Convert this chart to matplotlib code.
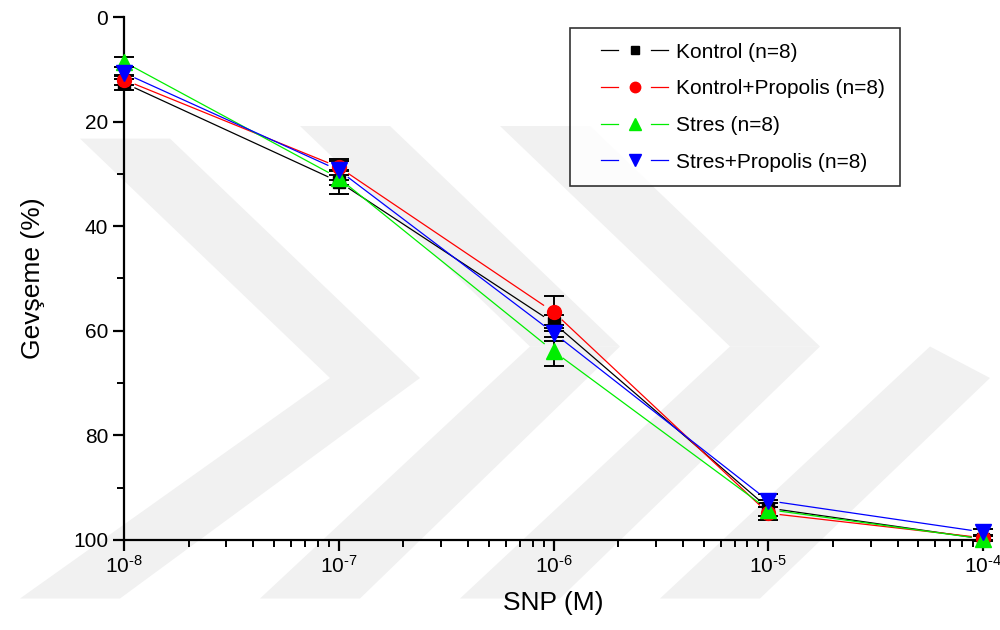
import numpy as np
import matplotlib
matplotlib.use('Agg')
import matplotlib.pyplot as plt
from matplotlib.patches import Polygon
from matplotlib.lines import Line2D
from matplotlib.legend_handler import HandlerBase
from matplotlib.ticker import LogLocator, FixedLocator, NullFormatter, FuncFormatter

plt.rcParams['font.family'] = ['Liberation Sans', 'DejaVu Sans']
plt.rcParams['mathtext.fontset'] = 'custom'
plt.rcParams['mathtext.rm'] = 'Liberation Sans'
plt.rcParams['mathtext.it'] = 'Liberation Sans'

# SNP concentrations (M)
conc = [1e-8, 1e-7, 1e-6, 1e-5, 1e-4]

# relaxation (%) per group, mean and error
kontrol = [12.6, 31.5, 58.5, 93.9, 99.8]
kontrol_err = [1.4, 2.3, 1.5, 1.5, 0.5]
kontrol_prop = [12.0, 28.7, 56.4, 94.9, 99.6]
kontrol_prop_err = [1.0, 1.6, 3.0, 1.2, 0.5]
stres = [8.6, 30.8, 63.9, 94.2, 99.8]
stres_err = [1.0, 1.3, 2.8, 1.2, 0.5]
stres_prop = [10.7, 29.3, 60.4, 92.5, 98.5]
stres_prop_err = [1.2, 1.8, 1.5, 1.3, 0.6]

labels = ['Kontrol (n=8)', 'Kontrol+Propolis (n=8)', 'Stres (n=8)',
          'Stres+Propolis (n=8)']
colors = ['black', '#ff0000', '#00ee00', '#0000ff']
markers = ['s', 'o', '^', 'v']
msizes = [8, 10, 11, 11]
GAP = 12  # px between line end and marker centre (Origin style)


class GapHandler(HandlerBase):
    # legend entry drawn as  -- marker --  with gaps around the marker
    def create_artists(self, legend, orig, xdescent, ydescent, width, height,
                       fontsize, trans):
        y = height / 2.0 - ydescent
        x0 = -xdescent + width * 0.2
        x1 = -xdescent + width
        xm = (x0 + x1) / 2.0
        g = width * 0.2
        kw = dict(color=orig.get_color(), lw=orig.get_linewidth())
        a = Line2D([x0, xm - g], [y, y], **kw)
        b = Line2D([xm + g, x1], [y, y], **kw)
        m = Line2D([xm], [y], ls='none', marker=orig.get_marker(),
                   ms=orig.get_markersize() * 0.75, color=orig.get_color())
        for art in (a, b, m):
            art.set_transform(trans)
        return [a, b, m]


fig = plt.figure(figsize=(10, 6.3), dpi=100)

# faint watermark bands in the background
bg = fig.add_axes([0, 0, 1, 1], zorder=-1)
bg.set_xlim(0, 1)
bg.set_ylim(0, 1)
bg.axis('off')
wm = '#f1f1f1'
for p in [
    [(0.08, 0.78), (0.17, 0.78), (0.42, 0.40), (0.33, 0.40)],
    [(0.02, 0.05), (0.12, 0.05), (0.42, 0.40), (0.33, 0.40)],
    [(0.26, 0.05), (0.36, 0.05), (0.62, 0.45), (0.53, 0.45)],
    [(0.30, 0.80), (0.39, 0.80), (0.62, 0.45), (0.53, 0.45)],
    [(0.46, 0.05), (0.56, 0.05), (0.82, 0.45), (0.73, 0.45)],
    [(0.50, 0.80), (0.59, 0.80), (0.82, 0.45), (0.73, 0.45)],
    [(0.66, 0.05), (0.76, 0.05), (0.99, 0.40), (0.93, 0.45)],
]:
    bg.add_patch(Polygon(p, closed=True, facecolor=wm, edgecolor='none'))

ax = fig.add_axes([0.124, 0.143, 0.859, 0.830])
ax.patch.set_alpha(0)
ax.set_xscale('log')
ax.set_xlim(1e-8, 1e-4)
ax.set_ylim(100, 0)

series = [(kontrol, kontrol_err), (kontrol_prop, kontrol_prop_err),
          (stres, stres_err), (stres_prop, stres_prop_err)]
handles = []
inv = ax.transData.inverted()
for i, (y, e) in enumerate(series):
    ax.errorbar(conc, y, yerr=e, fmt='none', ecolor='black', elinewidth=1.4,
                capsize=7, capthick=1.4, zorder=2, clip_on=False)
    # connecting segments, shortened near each marker
    pts = ax.transData.transform(np.column_stack([conc, y]))
    for p0, p1 in zip(pts[:-1], pts[1:]):
        d = p1 - p0
        u = d / np.hypot(*d)
        seg = inv.transform([p0 + u * GAP, p1 - u * GAP])
        ax.plot(seg[:, 0], seg[:, 1], color=colors[i], lw=0.9, zorder=3,
                clip_on=False)
    ax.plot(conc, y, ls='none', color=colors[i], marker=markers[i],
            ms=msizes[i], zorder=4, clip_on=False)
    handles.append(Line2D([], [], color=colors[i], lw=0.9, marker=markers[i],
                          ms=msizes[i]))

ax.set_yticks([0, 20, 40, 60, 80, 100])
ax.yaxis.set_minor_locator(FixedLocator([10, 30, 50, 70, 90]))
ax.xaxis.set_major_locator(LogLocator(base=10, numticks=10))
ax.xaxis.set_major_formatter(FuncFormatter(
    lambda v, pos: r'$\mathregular{10^{\text{-}%d}}$' % round(-np.log10(v))))
ax.xaxis.set_minor_locator(LogLocator(base=10, subs=np.arange(2, 10), numticks=20))
ax.xaxis.set_minor_formatter(NullFormatter())

for s in ['top', 'right']:
    ax.spines[s].set_visible(False)
for s in ['left', 'bottom']:
    ax.spines[s].set_linewidth(1.6)
ax.tick_params(which='major', length=8, width=1.6, labelsize=15, direction='out')
ax.tick_params(which='minor', length=5, width=1.4, direction='out')
ax.tick_params(axis='x', pad=3)

ax.set_xlabel('SNP (M)', fontsize=19, labelpad=10)
ax.set_ylabel('Gevşeme (%)', fontsize=19, labelpad=20)

leg = ax.legend(handles, labels, loc='upper right',
                bbox_to_anchor=(0.903, 0.979), fontsize=15,
                frameon=True, fancybox=False, edgecolor='black',
                handlelength=4.0, borderpad=0.7, labelspacing=0.85,
                handletextpad=0.4, borderaxespad=0,
                handler_map={Line2D: GapHandler()})
leg.get_frame().set_linewidth(1.2)

plt.savefig('out.png', dpi=100)
plt.close()
